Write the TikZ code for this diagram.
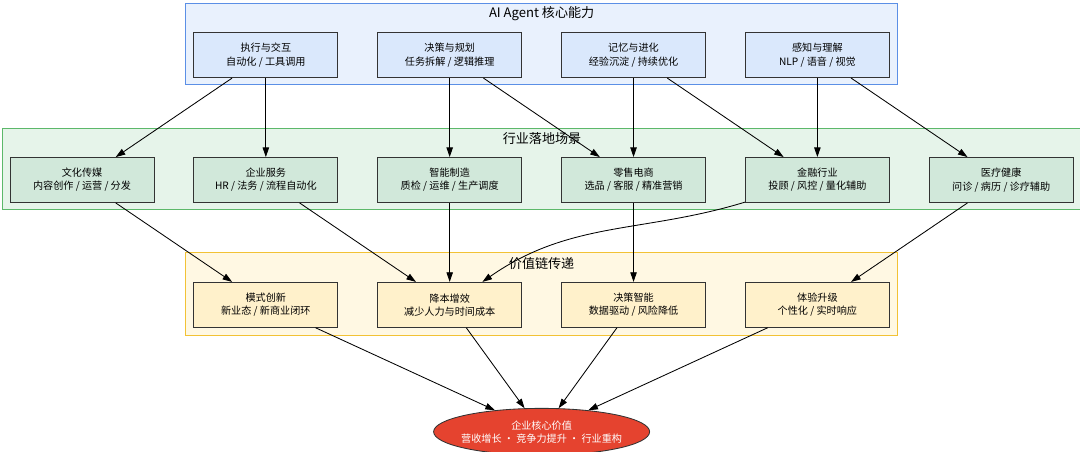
\documentclass[tikz,border=0pt]{standalone}
\usepackage{fontspec}
\setmainfont{Noto Sans CJK SC}
\usetikzlibrary{positioning,arrows.meta,fit,backgrounds,calc,shapes.geometric}
\definecolor{capline}{HTML}{5B8FE6}
\definecolor{capfill}{HTML}{E9F1FD}
\definecolor{capbox}{HTML}{DAE8FC}
\definecolor{sceneline}{HTML}{5CB86A}
\definecolor{scenefill}{HTML}{E6F4EA}
\definecolor{scenebox}{HTML}{D1E8DA}
\definecolor{valline}{HTML}{F2C235}
\definecolor{valfill}{HTML}{FFF8E3}
\definecolor{valbox}{HTML}{FFF1CB}
\definecolor{corered}{HTML}{E5432F}

\begin{document}
\begin{tikzpicture}[
  font=\fontsize{7.2}{9.4}\selectfont,
  node distance=0.975cm,
  box/.style={draw=black!80, line width=0.6pt, align=center,
    minimum width=3.6cm, minimum height=1.125cm, inner sep=2pt},
  ability/.style={box, fill=capbox},
  scene/.style={box, fill=scenebox},
  valstep/.style={box, fill=valbox},
  corebox/.style={ellipse, draw=black!80, line width=0.6pt, fill=corered,
    text=white, align=center, minimum width=5.4cm, minimum height=1.17cm,
    inner xsep=-0.15cm, inner ysep=0pt},
  flow/.style={-{Triangle[length=2.4mm,width=1.6mm]}, line width=0.6pt,
    draw=black},
  lane/.style={line width=0.8pt, inner sep=0pt},
  lanetitle/.style={font=\fontsize{9.3}{11}\selectfont, inner sep=1pt},
]
\useasboundingbox (0,0) rectangle (27,-11.3);

% ---- middle row: the industry scenes -------------------------------------
\node[scene] (media) at (2.05,-4.5) {文化传媒\\内容创作 / 运营 / 分发};
\node[scene, right=of media] (biz) {企业服务\\HR / 法务 / 流程自动化};
\node[scene, right=of biz] (mfg) {智能制造\\质检 / 运维 / 生产调度};
\node[scene, right=of mfg] (retail) {零售电商\\选品 / 客服 / 精准营销};
\node[scene, right=of retail] (fin) {金融行业\\投顾 / 风控 / 量化辅助};
\node[scene, right=of fin] (health) {医疗健康\\问诊 / 病历 / 诊疗辅助};

% ---- top row: the agent capabilities -------------------------------------
\node[ability, above=1.975cm of biz] (cap1) {执行与交互\\自动化 / 工具调用};
\node[ability, above=1.975cm of mfg] (cap2) {决策与规划\\任务拆解 / 逻辑推理};
\node[ability, above=1.975cm of retail] (cap3) {记忆与进化\\经验沉淀 / 持续优化};
\node[ability, above=1.975cm of fin] (cap4) {感知与理解\\NLP / 语音 / 视觉};

% ---- bottom row: the value chain -----------------------------------------
\node[valstep, below=1.975cm of biz] (val1) {模式创新\\新业态 / 新商业闭环};
\node[valstep, below=1.975cm of mfg] (val2) {降本增效\\减少人力与时间成本};
\node[valstep, below=1.975cm of retail] (val3) {决策智能\\数据驱动 / 风险降低};
\node[valstep, below=1.975cm of fin] (val4) {体验升级\\个性化 / 实时响应};

\node[corebox] (core) at ($(val2.south)!0.5!(val3.south)+(0,-2.6)$)
  {企业核心价值\\营收增长 · 竞争力提升 · 行业重构};

% ---- lane frames and titles ----------------------------------------------
\begin{scope}[on background layer]
  \node[lane, draw=capline, fill=capfill,
    fit={($(cap1.north west)+(-0.2,0.725)$) ($(cap4.south east)+(0.2,-0.15)$)}]
    (caplane) {};
  \node[lane, draw=sceneline, fill=scenefill,
    fit={($(media.north west)+(-0.18,0.725)$) ($(health.south east)+(0.2,-0.17)$)}]
    (scenelane) {};
  \node[lane, draw=valline, fill=valfill,
    fit={($(val1.north west)+(-0.2,0.725)$) ($(val4.south east)+(0.2,-0.2)$)}]
    (vallane) {};
\end{scope}
\node[lanetitle] (captitle) at ($(caplane.north)+(0,-0.27)$) {AI Agent 核心能力};
\node[lanetitle] (scenetitle) at ($(scenelane.north)+(0,-0.27)$) {行业落地场景};
\node[lanetitle] (valtitle) at ($(vallane.north)+(0,-0.27)$) {价值链传递};

% ---- connectors -----------------------------------------------------------
\foreach \a/\b in {cap1/media, cap1/biz, cap2/mfg, cap2/retail, cap3/retail,
    cap3/fin, cap4/fin, cap4/health, media/val1, biz/val2, mfg/val2,
    retail/val3, health/val4, val1/core, val2/core, val3/core, val4/core}
  \draw[flow] (\a) -- (\b);
% finance feeds cost reduction, bent round the decision box
\draw[flow] (fin) to[out=197, in=35] (val2);

\end{tikzpicture}
\end{document}
